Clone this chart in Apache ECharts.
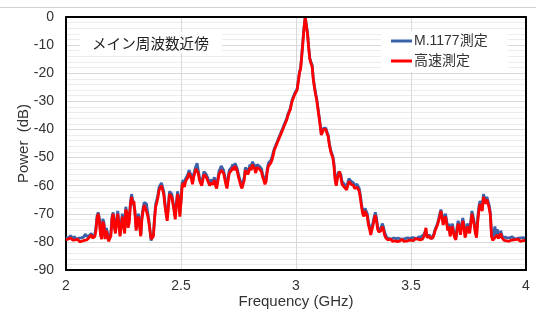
<!DOCTYPE html>
<html>
<head>
<meta charset="utf-8">
<script src="https://cdn.jsdelivr.net/npm/echarts@6/dist/echarts.min.js"></script>
<style>html,body{margin:0;padding:0;background:#fff;}#c{width:536px;height:320px;}</style>
</head>
<body>
<div id="c"></div>
<script>
// Frequency grid: 2.000 .. 4.000 GHz in 0.005 GHz steps
const freqStart = 2.0;
const freqStep = 0.005;
const xTicks = ['2', '2.5', '3', '3.5', '4'];
const yTicks = ['0', '-10', '-20', '-30', '-40', '-50', '-60', '-70', '-80', '-90'];
const seriesNames = ['M.1177測定', '高速測定'];
const annotationText = 'メイン周波数近傍';

// 高速測定 (red)
const powerFast = [
  -79.2,-78.8,-79.0,-79.5,-78.6,-79.1,-79.4,-78.9,-79.3,-79.8,-79.0,-79.6,-80.0,-79.4,-79.7,-79.2,-79.5,-79.9,-79.3,-79.0,
  -78.5,-78.0,-77.5,-78.6,-79.0,-78.2,-76.0,-71.5,-70.0,-72.5,-77.5,-79.0,-72.8,-74.0,-79.0,-76.0,-77.5,-79.8,-80.0,-78.0,
  -72.0,-70.0,-74.5,-77.0,-73.0,-70.0,-74.0,-78.0,-74.5,-71.0,-74.0,-77.0,-68.5,-69.5,-75.0,-73.0,-67.0,-64.0,-66.5,-65.5,
  -70.0,-76.0,-73.0,-71.0,-74.5,-78.0,-72.0,-69.0,-67.0,-68.0,-67.5,-70.5,-73.0,-76.0,-79.0,-79.5,-78.0,-72.0,-67.5,-66.0,
  -64.0,-61.5,-62.0,-60.0,-59.5,-63.0,-67.0,-70.0,-72.5,-68.0,-63.0,-62.5,-64.0,-66.5,-69.0,-72.0,-67.0,-63.0,-65.0,-71.0,
  -66.0,-60.0,-59.0,-60.5,-58.5,-58.0,-57.0,-55.5,-55.0,-57.5,-59.5,-57.0,-55.5,-54.0,-53.5,-55.5,-58.0,-59.0,-60.0,-58.0,
  -56.0,-56.5,-57.0,-57.5,-59.0,-60.0,-59.0,-58.5,-59.5,-58.0,-60.0,-61.0,-58.5,-56.0,-55.5,-54.5,-54.0,-55.5,-57.5,-59.5,
  -61.0,-58.0,-55.5,-56.0,-54.5,-53.5,-54.5,-53.0,-52.5,-55.0,-57.0,-58.5,-60.0,-61.0,-61.5,-58.0,-54.5,-54.0,-56.0,-55.0,
  -53.5,-54.5,-52.5,-52.0,-54.0,-55.5,-53.5,-53.0,-54.0,-54.5,-55.0,-57.0,-58.0,-59.5,-58.5,-55.0,-53.0,-52.5,-52.0,-51.0,
  -49.5,-47.5,-46.5,-45.5,-44.5,-43.5,-42.5,-41.5,-40.5,-39.5,-38.5,-37.5,-36.5,-35.0,-34.0,-33.0,-31.0,-29.5,-28.5,-27.5,
  -27.0,-26.0,-23.0,-20.0,-18.5,-14.0,-9.0,-4.0,0.0,-0.5,-6.0,-11.0,-15.0,-16.5,-17.5,-22.0,-25.0,-27.5,-29.5,-32.5,
  -35.5,-38.5,-42.0,-41.5,-40.0,-39.5,-40.0,-41.5,-42.5,-45.5,-47.5,-49.0,-50.0,-53.0,-58.0,-60.0,-57.5,-56.0,-55.0,-57.0,
  -59.5,-59.0,-60.5,-61.0,-61.5,-60.0,-58.5,-58.0,-59.5,-59.0,-60.0,-61.0,-61.5,-60.5,-60.0,-62.0,-64.5,-67.5,-70.0,-71.0,
  -69.0,-68.5,-71.0,-74.0,-75.5,-77.5,-78.0,-74.0,-72.0,-70.5,-72.5,-75.5,-76.5,-77.0,-76.0,-74.5,-75.5,-77.5,-78.5,-79.0,
  -79.3,-79.6,-79.0,-79.5,-79.8,-79.2,-79.6,-79.4,-79.9,-79.3,-79.7,-79.5,-79.1,-79.6,-79.8,-79.4,-79.7,-79.2,-79.5,-79.3,
  -79.4,-79.0,-79.6,-79.2,-78.8,-79.5,-79.0,-78.5,-79.3,-78.6,-79.0,-78.2,-77.0,-75.0,-78.5,-79.2,-78.0,-78.8,-79.5,-78.5,
  -77.5,-76.0,-75.5,-74.0,-72.5,-71.0,-69.0,-71.5,-74.0,-72.0,-71.0,-73.5,-76.0,-74.5,-78.0,-76.5,-74.5,-77.0,-78.5,-79.3,
  -76.0,-73.5,-75.0,-77.5,-75.0,-72.5,-74.5,-78.5,-77.0,-74.5,-75.5,-77.0,-73.5,-70.0,-72.0,-74.0,-77.0,-78.5,-73.0,-69.0,
  -66.5,-68.0,-69.0,-64.0,-63.5,-66.5,-65.0,-64.5,-68.0,-70.5,-78.0,-79.5,-79.0,-78.5,-79.2,-77.5,-78.8,-79.3,-77.0,-78.5,
  -79.2,-79.5,-79.0,-79.6,-79.2,-79.8,-79.1,-79.4,-78.8,-79.3,-79.7,-79.2,-79.5,-79.0,-79.4,-79.8,-79.3,-79.6,-79.1,-79.5,-79.6
];

// M.1177測定 (blue)
const powerM1177 = [
  -78.5,-78.0,-78.6,-78.2,-77.8,-78.4,-78.9,-78.1,-78.5,-79.0,-78.3,-78.7,-79.2,-78.6,-78.9,-78.4,-78.0,-77.2,-78.1,-78.4,
  -77.8,-77.2,-77.0,-77.8,-78.4,-77.6,-75.0,-70.8,-69.5,-71.5,-76.5,-78.2,-71.8,-73.0,-78.5,-75.0,-76.5,-79.0,-79.5,-77.0,
  -71.0,-69.5,-73.5,-76.5,-72.0,-69.0,-73.0,-77.5,-73.5,-70.0,-73.0,-76.0,-67.5,-68.0,-74.0,-71.5,-66.0,-63.0,-65.0,-64.5,
  -69.0,-75.0,-72.0,-70.0,-73.5,-77.5,-71.0,-68.0,-66.0,-66.5,-66.5,-69.5,-72.0,-75.5,-79.5,-80.0,-77.5,-71.0,-66.5,-65.0,
  -63.0,-60.5,-61.0,-59.0,-58.5,-62.0,-66.0,-69.0,-71.5,-67.0,-62.0,-61.5,-63.0,-65.5,-68.0,-71.0,-66.0,-62.0,-64.0,-70.0,
  -65.0,-59.0,-58.0,-59.5,-57.5,-57.0,-56.0,-54.5,-54.0,-56.5,-58.5,-56.0,-54.5,-53.0,-52.0,-54.5,-57.0,-58.0,-59.0,-57.0,
  -55.0,-55.5,-56.0,-56.5,-58.0,-59.0,-58.0,-57.5,-58.5,-57.0,-59.0,-60.0,-57.5,-55.0,-54.5,-53.0,-52.5,-54.5,-56.5,-58.5,
  -60.0,-57.0,-54.5,-55.0,-53.5,-52.5,-53.5,-52.0,-51.5,-54.0,-56.0,-57.5,-59.0,-60.0,-60.5,-57.0,-53.5,-53.0,-55.0,-54.0,
  -52.5,-53.5,-51.5,-51.0,-53.0,-54.5,-52.5,-52.0,-53.0,-53.5,-54.0,-56.0,-57.0,-58.5,-57.5,-54.0,-52.0,-51.5,-51.0,-50.0,
  -48.5,-47.0,-46.0,-45.0,-44.0,-43.0,-42.0,-41.0,-40.0,-39.0,-38.0,-37.0,-36.0,-34.5,-33.5,-32.5,-30.5,-29.0,-28.0,-27.0,
  -26.5,-25.5,-22.5,-19.5,-18.0,-13.5,-8.5,-3.5,0.0,-0.5,-5.5,-10.5,-14.5,-16.0,-17.0,-21.5,-24.5,-27.0,-29.0,-32.0,
  -35.0,-38.0,-41.5,-41.0,-39.5,-39.0,-39.5,-41.0,-42.0,-45.0,-47.0,-48.5,-49.5,-52.0,-57.0,-59.5,-56.5,-55.0,-54.5,-56.0,
  -58.5,-58.0,-59.5,-60.0,-60.5,-59.0,-57.5,-57.0,-58.5,-58.0,-59.0,-60.0,-60.5,-59.5,-59.0,-61.0,-63.5,-66.5,-69.0,-70.0,
  -68.0,-67.5,-70.0,-73.0,-74.5,-76.5,-77.0,-73.0,-71.0,-69.5,-71.5,-74.5,-75.5,-76.0,-75.0,-73.5,-74.5,-76.5,-77.5,-78.5,
  -79.0,-78.8,-78.4,-79.0,-79.3,-78.6,-79.0,-78.9,-79.4,-78.7,-79.1,-79.0,-78.5,-79.0,-79.2,-78.8,-79.1,-78.6,-79.0,-78.8,
  -79.0,-78.5,-79.1,-78.6,-78.2,-79.0,-78.5,-78.0,-78.8,-78.0,-78.5,-77.5,-76.5,-76.0,-78.0,-78.6,-77.5,-78.2,-79.0,-78.0,
  -77.0,-75.5,-75.0,-73.5,-72.0,-70.0,-68.5,-70.5,-73.0,-71.0,-70.0,-72.5,-75.0,-73.5,-77.0,-75.5,-73.5,-76.0,-77.5,-78.5,
  -75.0,-72.5,-74.0,-76.5,-74.0,-71.5,-73.5,-77.5,-76.0,-73.5,-74.5,-76.0,-72.5,-69.0,-71.0,-73.0,-76.0,-77.5,-71.5,-67.5,
  -65.5,-66.5,-68.0,-63.0,-62.5,-65.5,-64.0,-63.5,-67.0,-69.5,-77.0,-78.5,-78.0,-74.5,-78.0,-75.5,-77.5,-78.5,-76.0,-77.5,
  -78.5,-78.8,-78.3,-79.0,-78.6,-79.1,-78.5,-78.8,-78.2,-78.6,-79.0,-78.5,-78.8,-78.4,-78.7,-79.1,-78.6,-78.9,-78.5,-78.8,-79.0
];

const toPairs = arr => arr.map((v, i) => [+(freqStart + i * freqStep).toFixed(3), v]);

const FONT = "'Liberation Sans', Arial, 'Noto Sans CJK JP', sans-serif";
const chart = echarts.init(document.getElementById('c'), null, {renderer: 'canvas'});
const frameAxis = {
  type: 'value', axisLabel: {show: false}, axisTick: {show: false}, splitLine: {show: false},
  minorSplitLine: {show: false},
  axisLine: {show: true, onZero: false, lineStyle: {color: '#000', width: 2}}, z: 20
};
chart.setOption({
  animation: false,
  backgroundColor: '#fff',
  textStyle: {fontFamily: FONT},
  grid: {left: 66, right: 10, top: 17, bottom: 50},
  xAxis: [{
    type: 'value', min: 2, max: 4, interval: 0.5,
    name: 'Frequency (GHz)', nameLocation: 'middle', nameGap: 24, nameMoveOverlap: false,
    nameTextStyle: {fontSize: 15, color: '#333', fontFamily: FONT},
    axisLine: {show: true, onZero: false, lineStyle: {color: '#000', width: 2}},
    axisTick: {show: false},
    axisLabel: {fontSize: 14, color: '#333', margin: 9, fontFamily: FONT,
      formatter: v => xTicks[Math.round((v - 2) / 0.5)] ?? ''},
    splitLine: {show: true, lineStyle: {color: '#d9d9d9', width: 1}}
  }, Object.assign({}, frameAxis, {position: 'top', min: 2, max: 4})],
  yAxis: [{
    type: 'value', min: -90, max: 0, interval: 10,
    name: 'Power  (dB)', nameLocation: 'middle', nameGap: 35, nameRotate: 90, nameMoveOverlap: false,
    nameTextStyle: {fontSize: 15, color: '#333', fontFamily: FONT},
    axisLine: {show: true, onZero: false, lineStyle: {color: '#000', width: 2}},
    axisTick: {show: false},
    axisLabel: {fontSize: 14, color: '#333', margin: 12, fontFamily: FONT,
      formatter: v => yTicks[Math.round(-v / 10)] ?? ''},
    splitLine: {show: true, lineStyle: {color: '#d9d9d9', width: 1}},
    minorTick: {show: false, splitNumber: 5},
    minorSplitLine: {show: true, lineStyle: {color: '#ececec', width: 1}}
  }, Object.assign({}, frameAxis, {position: 'right', min: -90, max: 0})],
  legend: {
    orient: 'vertical', left: 381, top: 31,
    backgroundColor: '#fff', padding: [3, 20, 4, 10],
    itemWidth: 21, itemHeight: 3, itemGap: 6,
    icon: 'rect',
    textStyle: {fontSize: 14, color: '#333', fontFamily: FONT, padding: [0, 0, 0, -3]},
    data: [
      {name: seriesNames[0], itemStyle: {color: '#3B62A8'}},
      {name: seriesNames[1], itemStyle: {color: '#FF0000'}}
    ]
  },
  graphic: [
    {type: 'line', shape: {x1: 0, y1: 7.5, x2: 536, y2: 7.5}, style: {stroke: '#d0d0d0', lineWidth: 1}, z: 10},
    {type: 'rect', shape: {x: 80, y: 32, width: 142, height: 21}, style: {fill: '#fff'}, z: 10},
    {type: 'text', x: 92, y: 43, style: {text: annotationText, fontSize: 14.6, fill: '#222', fontFamily: "'Noto Sans CJK JP', sans-serif", verticalAlign: 'middle'}, z: 11}
  ],
  series: [
    {name: seriesNames[0], type: 'line', data: toPairs(powerM1177), showSymbol: false, symbol: 'none',
      lineStyle: {color: '#3B62A8', width: 2.8}, itemStyle: {color: '#3B62A8'}, z: 2},
    {name: seriesNames[1], type: 'line', data: toPairs(powerFast), showSymbol: false, symbol: 'none',
      lineStyle: {color: '#FF0000', width: 2.8}, itemStyle: {color: '#FF0000'}, z: 3}
  ]
});
</script>
</body>
</html>
